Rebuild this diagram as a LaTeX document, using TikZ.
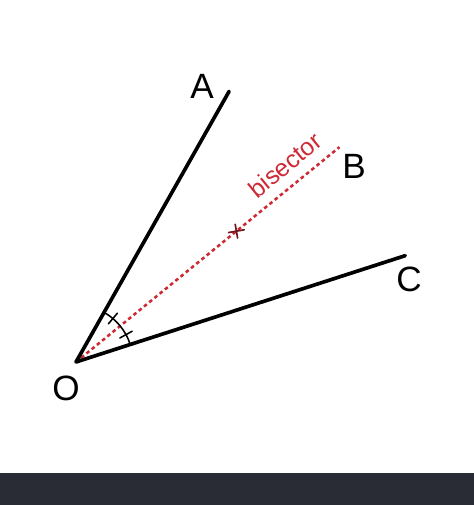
\documentclass[tikz,border=0pt]{standalone}
\usepackage{fontspec}
\setmainfont{Liberation Sans}
\usetikzlibrary{calc}
\definecolor{bisred}{RGB}{206,42,54}
\definecolor{bandgray}{RGB}{41,44,52}
\begin{document}
\begin{tikzpicture}[x=0.25mm,y=0.25mm,line join=round,line cap=round,
    ray/.style={line width=2.6pt},
    halfline/.style={bisred,line width=1.8pt,line cap=butt,dash pattern=on 2.6pt off 2.2pt},
    lbl/.style={font=\fontsize{25}{30}\selectfont,inner sep=0pt}]
    \useasboundingbox (0,0) rectangle (474,505);
    \fill[white] (0,0) rectangle (474,505);
    \fill[bandgray] (0,0) rectangle (474,32);

    \coordinate (O) at (76,143);
    \coordinate (A) at ($(O)+(60.5:311)$);
    \coordinate (C) at ($(O)+(17.9:346)$);
    \coordinate (B) at ($(O)+(39.2:340)$);
    \coordinate (M) at ($(O)+(39.2:207)$);

    \draw[halfline] (O)--(B);
    \draw[ray] (A)--(O)--(C);

    % angle mark
    \draw[line width=1.1pt] ($(O)+(17.9:57)$) arc (17.9:60.5:57);
    \draw[line width=1.1pt] ($(O)+(49.7:50)$)--($(O)+(49.7:64)$);
    \draw[line width=1.1pt] ($(O)+(28.7:50)$)--($(O)+(28.7:64)$);

    % midpoint cross
    \draw[bisred!55!black,line width=1.2pt] ($(M)+(190:8)$)--($(M)+(10:8)$)
        ($(M)+(100:7)$)--($(M)+(280:7)$);

    \node[lbl] (labA) at (202,419) {A};
    \node[lbl] (labB) at (354,339) {B};
    \node[lbl] (labC) at (409,226) {C};
    \node[lbl] (labO) at (66,117) {O};
    \node[bisred,font=\fontsize{17.5}{20}\selectfont,rotate=39.2,inner sep=0pt] (labbis) at (285,340) {bisector};
\end{tikzpicture}
\end{document}
